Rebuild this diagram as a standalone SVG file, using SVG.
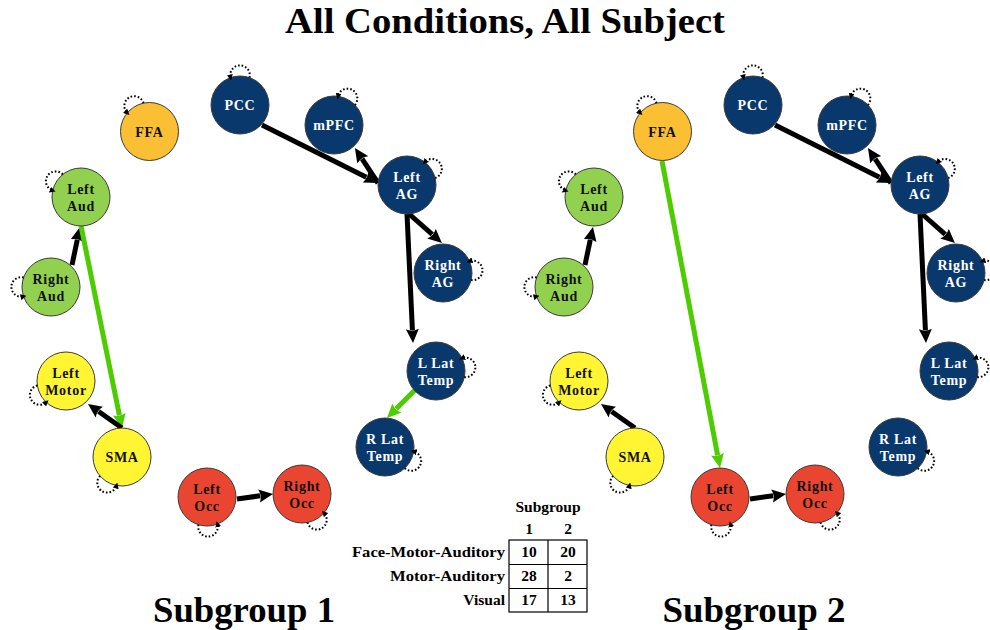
<svg xmlns="http://www.w3.org/2000/svg" xmlns:xlink="http://www.w3.org/1999/xlink" width="990" height="630" viewBox="0 0 990 630">
  <style>
    text { font-family: "Liberation Serif", "DejaVu Serif", serif; font-weight: bold; }
    .title { font-size: 35px; text-anchor: middle; fill: #000; }
    .sub { font-size: 35px; text-anchor: middle; fill: #000; }
    .lbl { font-size: 14px; letter-spacing: 0.7px; text-anchor: middle; }
    .light { fill: #ffffff; }
    .dark { fill: #111111; }
    .node { stroke: #3a3a3a; stroke-width: 1; }
    .dmn { fill: #08386c; }
    .ffa { fill: #fbbf33; }
    .aud { fill: #92d050; }
    .mot { fill: #fff533; }
    .occ { fill: #ea4530; }
    .edge { fill: none; stroke-width: 5; stroke-linecap: butt; }
    .blk { stroke: #000; marker-end: url(#headBlack); }
    .grn { stroke: #4dcc00; marker-end: url(#headGreen); }
    .loop { fill: none; stroke: #000; stroke-width: 2; stroke-dasharray: 1.6 2; marker-end: url(#headLoop); }
    .tbl { font-size: 15.5px; fill: #000; }
    .grid { fill: none; stroke: #000; stroke-width: 1.2; }
  </style>
  <defs>
    <marker id="headBlack" markerUnits="userSpaceOnUse" viewBox="0 0 14 14" markerWidth="14" markerHeight="14" refX="1" refY="7" orient="auto">
      <path d="M0,0.5 L14,7 L0,13.5 Q3,7 0,0.5 Z" fill="#000"/>
    </marker>
    <marker id="headGreen" markerUnits="userSpaceOnUse" viewBox="0 0 14 14" markerWidth="14" markerHeight="14" refX="1" refY="7" orient="auto">
      <path d="M0,0.5 L14,7 L0,13.5 Q3,7 0,0.5 Z" fill="#4dcc00"/>
    </marker>
    <marker id="headLoop" markerUnits="userSpaceOnUse" viewBox="0 0 6 6" markerWidth="6" markerHeight="6" refX="3" refY="3" orient="auto">
      <path d="M0,0 L6,3 L0,6 Z" fill="#000"/>
    </marker>
    <!-- self-connection drawn at the top of a node (r = 29); rotated per node -->
    <path id="selfLoop" class="loop" d="M9.5,-27.4 A9.8,9.8 0 1 0 -9.5,-27.4"/>
  </defs>

  <text class="title" x="505" y="33" textLength="440" lengthAdjust="spacingAndGlyphs">All Conditions, All Subject</text>

  <!-- ===================== Subgroup 1 ===================== -->
  <g id="sg1-edges">
    <path class="edge blk" d="M262,125 L366.4,177.2"/>
    <path class="edge blk" d="M378,183 L362.1,158.9"/>
    <path class="edge blk" d="M408,213 L432.2,234.4"/>
    <path class="edge blk" d="M407,214 L412.4,330"/>
    <path class="edge grn" d="M417,388 L396.2,408.8"/>
    <path class="edge blk" d="M72,265 L77.3,239.7"/>
    <path class="edge grn" d="M81,226 L119.4,415.3"/>
    <path class="edge blk" d="M122,428 L98.6,411.5"/>
    <path class="edge blk" d="M237,499 L260.1,495.8"/>
  </g>

  <g id="sg1-pcc" transform="translate(240,105)">
    <circle class="node dmn" r="29"/>
    <use xlink:href="#selfLoop" transform="rotate(0)"/>
    <text class="lbl light" y="5">PCC</text>
  </g>
  <g id="sg1-ffa" transform="translate(149.5,131.5)">
    <circle class="node ffa" r="29"/>
    <use xlink:href="#selfLoop" transform="rotate(-31)"/>
    <text class="lbl dark" y="5">FFA</text>
  </g>
  <g id="sg1-left-aud" transform="translate(81,197)">
    <circle class="node aud" r="29"/>
    <use xlink:href="#selfLoop" transform="rotate(-58)"/>
    <text class="lbl dark" y="-3">Left</text>
    <text class="lbl dark" y="13.5">Aud</text>
  </g>
  <g id="sg1-right-aud" transform="translate(51,287)">
    <circle class="node aud" r="29"/>
    <use xlink:href="#selfLoop" transform="rotate(-90)"/>
    <text class="lbl dark" y="-3">Right</text>
    <text class="lbl dark" y="13.5">Aud</text>
  </g>
  <g id="sg1-mpfc" transform="translate(334,125)">
    <circle class="node dmn" r="29"/>
    <use xlink:href="#selfLoop" transform="rotate(27)"/>
    <text class="lbl light" y="5">mPFC</text>
  </g>
  <g id="sg1-left-ag" transform="translate(407,185)">
    <circle class="node dmn" r="29"/>
    <use xlink:href="#selfLoop" transform="rotate(57)"/>
    <text class="lbl light" y="-3">Left</text>
    <text class="lbl light" y="13.5">AG</text>
  </g>
  <g id="sg1-right-ag" transform="translate(443,273)">
    <circle class="node dmn" r="29"/>
    <use xlink:href="#selfLoop" transform="rotate(85)"/>
    <text class="lbl light" y="-3">Right</text>
    <text class="lbl light" y="13.5">AG</text>
  </g>
  <g id="sg1-l-lat-temp" transform="translate(436,371)">
    <circle class="node dmn" r="29"/>
    <use xlink:href="#selfLoop" transform="rotate(83)"/>
    <text class="lbl light" y="-3">L Lat</text>
    <text class="lbl light" y="13.5">Temp</text>
  </g>
  <g id="sg1-r-lat-temp" transform="translate(385,447)">
    <circle class="node dmn" r="29"/>
    <use xlink:href="#selfLoop" transform="rotate(118)"/>
    <text class="lbl light" y="-3">R Lat</text>
    <text class="lbl light" y="13.5">Temp</text>
  </g>
  <g id="sg1-left-motor" transform="translate(66,381)">
    <circle class="node mot" r="29"/>
    <use xlink:href="#selfLoop" transform="rotate(242)"/>
    <text class="lbl dark" y="-3">Left</text>
    <text class="lbl dark" y="13.5">Motor</text>
  </g>
  <g id="sg1-sma" transform="translate(122,457)">
    <circle class="node mot" r="29"/>
    <use xlink:href="#selfLoop" transform="rotate(210)"/>
    <text class="lbl dark" y="5">SMA</text>
  </g>
  <g id="sg1-left-occ" transform="translate(207,497)">
    <circle class="node occ" r="29"/>
    <use xlink:href="#selfLoop" transform="rotate(178)"/>
    <text class="lbl dark" y="-3">Left</text>
    <text class="lbl dark" y="13.5">Occ</text>
  </g>
  <g id="sg1-right-occ" transform="translate(302,494)">
    <circle class="node occ" r="29"/>
    <use xlink:href="#selfLoop" transform="rotate(150)"/>
    <text class="lbl dark" y="-3">Right</text>
    <text class="lbl dark" y="13.5">Occ</text>
  </g>

  <text class="sub" x="244" y="622" textLength="182" lengthAdjust="spacingAndGlyphs">Subgroup 1</text>

  <!-- ===================== Subgroup 2 ===================== -->
  <g id="sg2-edges">
    <path class="edge blk" d="M775,125 L879.4,177.2"/>
    <path class="edge blk" d="M891,183 L875.1,158.9"/>
    <path class="edge blk" d="M921,213 L945.2,234.4"/>
    <path class="edge blk" d="M920,214 L925.4,330"/>
    <path class="edge blk" d="M585,265 L590.3,239.7"/>
    <path class="edge blk" d="M635,428 L611.6,411.5"/>
    <path class="edge grn" d="M662,161 L717.6,455.2"/>
    <path class="edge blk" d="M750,499 L773.1,495.8"/>
  </g>

  <g id="sg2-pcc" transform="translate(753,105)">
    <circle class="node dmn" r="29"/>
    <use xlink:href="#selfLoop" transform="rotate(0)"/>
    <text class="lbl light" y="5">PCC</text>
  </g>
  <g id="sg2-ffa" transform="translate(662.5,131.5)">
    <circle class="node ffa" r="29"/>
    <use xlink:href="#selfLoop" transform="rotate(-31)"/>
    <text class="lbl dark" y="5">FFA</text>
  </g>
  <g id="sg2-left-aud" transform="translate(594,197)">
    <circle class="node aud" r="29"/>
    <use xlink:href="#selfLoop" transform="rotate(-58)"/>
    <text class="lbl dark" y="-3">Left</text>
    <text class="lbl dark" y="13.5">Aud</text>
  </g>
  <g id="sg2-right-aud" transform="translate(564,287)">
    <circle class="node aud" r="29"/>
    <use xlink:href="#selfLoop" transform="rotate(-90)"/>
    <text class="lbl dark" y="-3">Right</text>
    <text class="lbl dark" y="13.5">Aud</text>
  </g>
  <g id="sg2-mpfc" transform="translate(847,125)">
    <circle class="node dmn" r="29"/>
    <use xlink:href="#selfLoop" transform="rotate(27)"/>
    <text class="lbl light" y="5">mPFC</text>
  </g>
  <g id="sg2-left-ag" transform="translate(920,185)">
    <circle class="node dmn" r="29"/>
    <use xlink:href="#selfLoop" transform="rotate(57)"/>
    <text class="lbl light" y="-3">Left</text>
    <text class="lbl light" y="13.5">AG</text>
  </g>
  <g id="sg2-right-ag" transform="translate(956,273)">
    <circle class="node dmn" r="29"/>
    <use xlink:href="#selfLoop" transform="rotate(85)"/>
    <text class="lbl light" y="-3">Right</text>
    <text class="lbl light" y="13.5">AG</text>
  </g>
  <g id="sg2-l-lat-temp" transform="translate(949,371)">
    <circle class="node dmn" r="29"/>
    <use xlink:href="#selfLoop" transform="rotate(83)"/>
    <text class="lbl light" y="-3">L Lat</text>
    <text class="lbl light" y="13.5">Temp</text>
  </g>
  <g id="sg2-r-lat-temp" transform="translate(898,447)">
    <circle class="node dmn" r="29"/>
    <use xlink:href="#selfLoop" transform="rotate(118)"/>
    <text class="lbl light" y="-3">R Lat</text>
    <text class="lbl light" y="13.5">Temp</text>
  </g>
  <g id="sg2-left-motor" transform="translate(579,381)">
    <circle class="node mot" r="29"/>
    <use xlink:href="#selfLoop" transform="rotate(242)"/>
    <text class="lbl dark" y="-3">Left</text>
    <text class="lbl dark" y="13.5">Motor</text>
  </g>
  <g id="sg2-sma" transform="translate(635,457)">
    <circle class="node mot" r="29"/>
    <use xlink:href="#selfLoop" transform="rotate(210)"/>
    <text class="lbl dark" y="5">SMA</text>
  </g>
  <g id="sg2-left-occ" transform="translate(720,497)">
    <circle class="node occ" r="29"/>
    <use xlink:href="#selfLoop" transform="rotate(178)"/>
    <text class="lbl dark" y="-3">Left</text>
    <text class="lbl dark" y="13.5">Occ</text>
  </g>
  <g id="sg2-right-occ" transform="translate(815,494)">
    <circle class="node occ" r="29"/>
    <use xlink:href="#selfLoop" transform="rotate(150)"/>
    <text class="lbl dark" y="-3">Right</text>
    <text class="lbl dark" y="13.5">Occ</text>
  </g>

  <text class="sub" x="754" y="622" textLength="183" lengthAdjust="spacingAndGlyphs">Subgroup 2</text>

  <!-- ===================== Subgroup membership table ===================== -->
  <g id="table">
    <text class="tbl" x="548" y="512" text-anchor="middle">Subgroup</text>
    <text class="tbl" x="529" y="534" text-anchor="middle">1</text>
    <text class="tbl" x="568" y="534" text-anchor="middle">2</text>
    <rect class="grid" x="509" y="540" width="78" height="72"/>
    <line class="grid" x1="548" y1="540" x2="548" y2="612"/>
    <line class="grid" x1="509" y1="564.5" x2="587" y2="564.5"/>
    <line class="grid" x1="509" y1="588.5" x2="587" y2="588.5"/>
    <text class="tbl" x="505" y="557" text-anchor="end" textLength="153" lengthAdjust="spacingAndGlyphs">Face-Motor-Auditory</text>
    <text class="tbl" x="505" y="581" text-anchor="end" textLength="115" lengthAdjust="spacingAndGlyphs">Motor-Auditory</text>
    <text class="tbl" x="505" y="605" text-anchor="end">Visual</text>
    <text class="tbl" x="529" y="557" text-anchor="middle">10</text>
    <text class="tbl" x="568" y="557" text-anchor="middle">20</text>
    <text class="tbl" x="529" y="581" text-anchor="middle">28</text>
    <text class="tbl" x="568" y="581" text-anchor="middle">2</text>
    <text class="tbl" x="529" y="605" text-anchor="middle">17</text>
    <text class="tbl" x="568" y="605" text-anchor="middle">13</text>
  </g>
</svg>
